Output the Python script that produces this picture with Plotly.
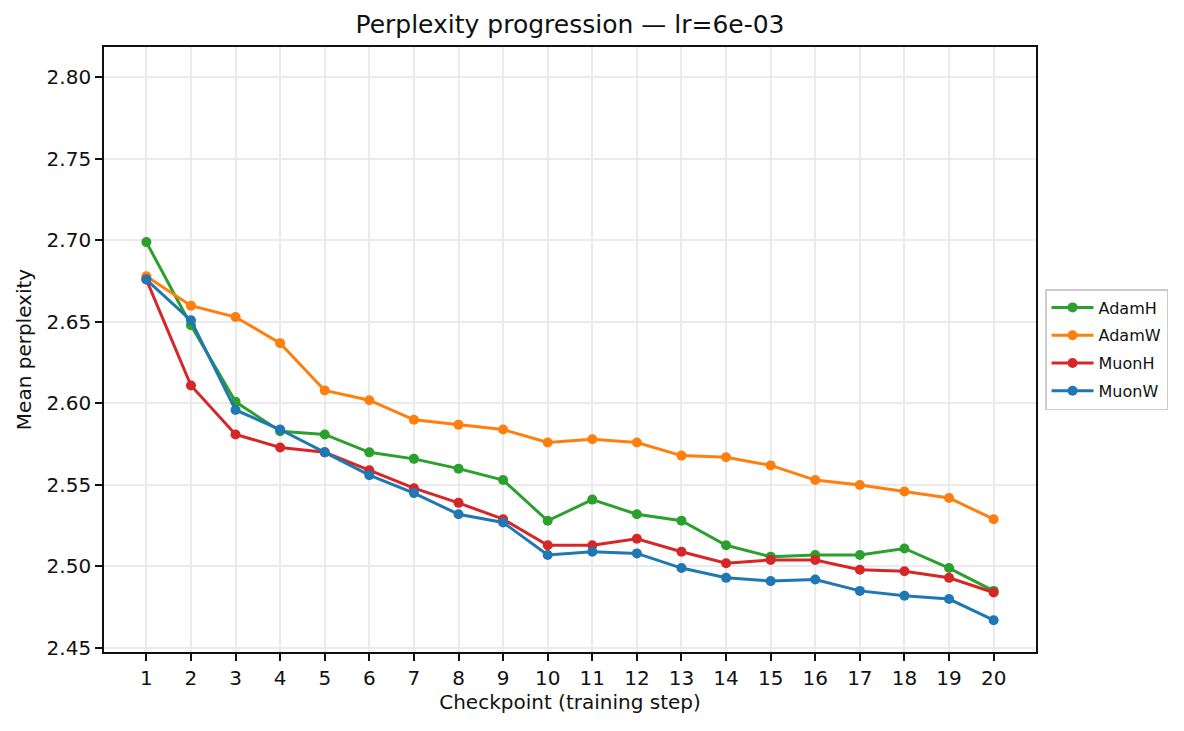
import plotly.graph_objects as go

checkpoints = list(range(1, 21))

adamh = [2.699, 2.648, 2.601, 2.583, 2.581, 2.570, 2.566, 2.560, 2.553, 2.528,
         2.541, 2.532, 2.528, 2.513, 2.506, 2.507, 2.507, 2.511, 2.499, 2.485]
adamw = [2.678, 2.660, 2.653, 2.637, 2.608, 2.602, 2.590, 2.587, 2.584, 2.576,
         2.578, 2.576, 2.568, 2.567, 2.562, 2.553, 2.550, 2.546, 2.542, 2.529]
muonh = [2.676, 2.611, 2.581, 2.573, 2.570, 2.559, 2.548, 2.539, 2.529, 2.513,
         2.513, 2.517, 2.509, 2.502, 2.504, 2.504, 2.498, 2.497, 2.493, 2.484]
muonw = [2.676, 2.651, 2.596, 2.584, 2.570, 2.556, 2.545, 2.532, 2.527, 2.507,
         2.509, 2.508, 2.499, 2.493, 2.491, 2.492, 2.485, 2.482, 2.480, 2.467]

series = [
    ("AdamH", adamh, "#2ca02c"),
    ("AdamW", adamw, "#ff7f0e"),
    ("MuonH", muonh, "#d62728"),
    ("MuonW", muonw, "#1f77b4"),
]

fig = go.Figure()
for name, vals, color in series:
    fig.add_trace(go.Scatter(
        x=checkpoints, y=vals, name=name, mode="lines+markers",
        legendgroup=name,
        line=dict(color=color, width=3),
        marker=dict(color=color, size=10),
    ))

# the page body has an 8px margin, so the figure is 8px smaller than the window
axis_common = dict(
    showline=True, linecolor="#111", linewidth=1.7, mirror=True,
    ticks="outside", ticklen=7, tickwidth=1.7, tickcolor="#111",
    showgrid=True, gridcolor="#ebebeb", gridwidth=1.5,
    zeroline=False, tickfont=dict(size=20, color="#111"),
)

fig.update_layout(
    width=1176, height=723,
    paper_bgcolor="white", plot_bgcolor="white",
    font=dict(family="DejaVu Sans", color="#111"),
    title=dict(text="Perplexity progression — lr=6e-03", xref="paper", x=0.5, xanchor="center",
               yref="container", y=1 - 16 / 723, yanchor="middle", font=dict(size=25)),
    margin=dict(l=96, r=148, t=39, b=79),
    showlegend=True,
    legend=dict(x=1.0097, y=0.5, xanchor="left", yanchor="middle",
                bordercolor="#cccccc", borderwidth=1.5, font=dict(size=16),
                bgcolor="white", tracegroupgap=4, itemwidth=42),
    xaxis=dict(axis_common, range=[0.05, 20.95], tickmode="array", tickvals=checkpoints,
               title=dict(text="Checkpoint (training step)", font=dict(size=20), standoff=5)),
    yaxis=dict(axis_common, range=[2.4475, 2.8187], tickformat=".2f", dtick=0.05, tick0=2.45,
               title=dict(text="Mean perplexity", font=dict(size=20), standoff=10)),
)

fig.write_html("out.html")
